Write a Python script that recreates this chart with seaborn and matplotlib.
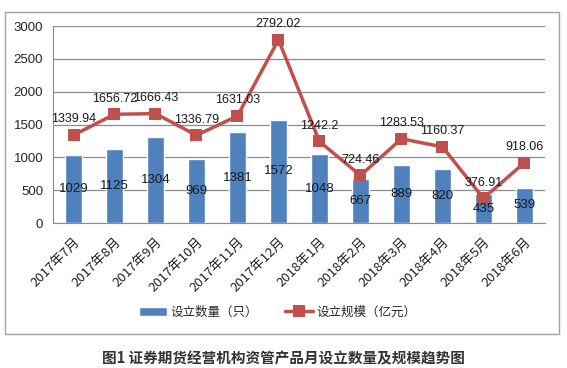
import pandas as pd
import matplotlib.pyplot as plt
import seaborn as sns
from matplotlib.patches import Rectangle

months = ['2017年7月', '2017年8月', '2017年9月', '2017年10月', '2017年11月', '2017年12月',
          '2018年1月', '2018年2月', '2018年3月', '2018年4月', '2018年5月', '2018年6月']
counts = [1029, 1125, 1304, 969, 1381, 1572, 1048, 667, 889, 820, 435, 539]
scale = [1339.94, 1656.72, 1666.43, 1336.79, 1631.03, 2792.02,
         1242.2, 724.46, 1283.53, 1160.37, 376.91, 918.06]
scale_labels = ['1339.94', '1656.72', '1666.43', '1336.79', '1631.03', '2792.02',
                '1242.2', '724.46', '1283.53', '1160.37', '376.91', '918.06']

bar_color = '#4F81BD'
line_color = '#C0504D'
num_font = 'Liberation Sans'

sns.set_style('white')
plt.rcParams['font.family'] = ['Noto Sans CJK SC', 'DejaVu Sans']

df = pd.DataFrame({'month': months, 'count': counts, 'scale': scale})

fig = plt.figure(figsize=(5.67, 3.68), dpi=100)
ax = fig.add_axes([0.0935, 0.394, 0.8675, 0.535])

sns.barplot(data=df, x='month', y='count', color=bar_color, width=0.41,
            saturation=1, ax=ax, label='设立数量（只）', zorder=2)
sns.lineplot(data=df, x='month', y='scale', color=line_color, linewidth=2.5,
             marker='s', markersize=8, markeredgewidth=0, sort=False, ax=ax,
             label='设立规模（亿元）', zorder=3)

# data labels
for i, v in enumerate(counts):
    ax.text(i, v / 2, str(v), ha='center', va='center', fontsize=9.5,
            family=num_font, color='#1a1a1a', zorder=4)
for i, v in enumerate(scale):
    ax.annotate(scale_labels[i], (i, v), xytext=(0, 7), textcoords='offset points',
                ha='center', va='bottom', fontsize=9, family=num_font,
                color='#1a1a1a', zorder=4)

ax.set_ylim(0, 3000)
ax.set_xlim(-0.5, 11.5)
ax.set_yticks(range(0, 3001, 500))
ax.yaxis.grid(True, color='#8c8c8c', linewidth=0.9, zorder=0)
ax.set_axisbelow(True)
for s in ['top', 'right']:
    ax.spines[s].set_visible(False)
ax.spines['left'].set_color('#8c8c8c')
ax.spines['bottom'].set_color('#8c8c8c')
ax.set_xlabel('')
ax.set_ylabel('')
ax.tick_params(axis='y', labelsize=9.5, length=4, color='#8c8c8c', pad=3)
ax.tick_params(axis='x', which='major', length=0, labelsize=9.5, pad=9)
ax.set_xticks([x - 0.5 for x in range(13)], minor=True)
ax.tick_params(axis='x', which='minor', length=5, color='#8c8c8c')
for lab in ax.get_yticklabels():
    lab.set_family(num_font)
plt.setp(ax.get_xticklabels(), rotation=45, ha='right', rotation_mode='anchor',
         color='#222222')

handles, labels = ax.get_legend_handles_labels()
order = [labels.index('设立数量（只）'), labels.index('设立规模（亿元）')]
leg = ax.legend([handles[k] for k in order], [labels[k] for k in order],
                loc='center', bbox_to_anchor=(0.49, 1 - 312 / 368),
                bbox_transform=fig.transFigure, ncol=2, frameon=False,
                fontsize=9, handlelength=2.2, columnspacing=2.2, handletextpad=0.3)

# outer chart border
fig.add_artist(Rectangle((5 / 567, 1 - 334 / 368), 554 / 567, 322 / 368,
                         transform=fig.transFigure, fill=False,
                         edgecolor='#a0a0a0', linewidth=1))

fig.text(0.5, 1 - 358 / 368, '图1 证券期货经营机构资管产品月设立数量及规模趋势图',
         ha='center', va='center', fontsize=10.5, fontweight='bold', color='#333333')

fig.savefig('out.png', dpi=100)
